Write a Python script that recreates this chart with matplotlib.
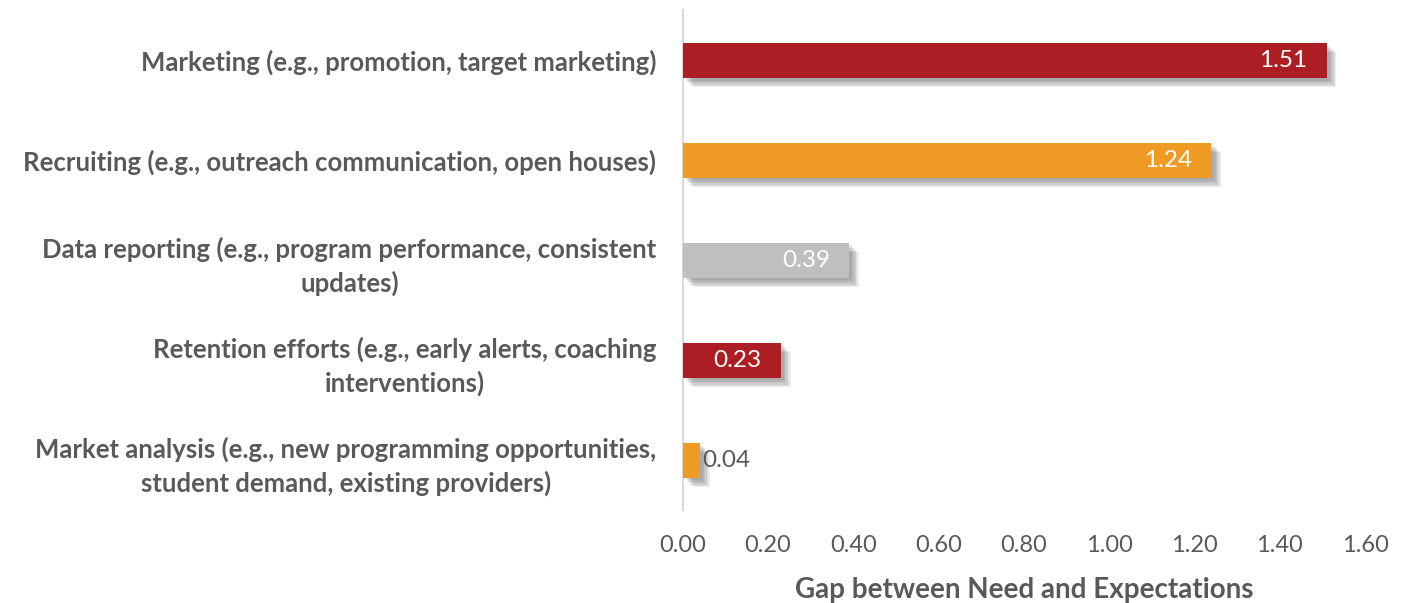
import matplotlib
matplotlib.use('Agg')
import matplotlib.pyplot as plt
import matplotlib.patheffects as pe

categories = [
    'Marketing (e.g., promotion, target marketing)',
    'Recruiting (e.g., outreach communication, open houses)',
    'Data reporting (e.g., program performance, consistent\nupdates)',
    'Retention efforts (e.g., early alerts, coaching\ninterventions)',
    'Market analysis (e.g., new programming opportunities,\nstudent demand, existing providers)',
]
gaps = [1.51, 1.24, 0.39, 0.23, 0.04]
colors = ['#AC1E23', '#EE9A24', '#BFBFBF', '#AC1E23', '#EE9A24']
ticks = [0.0, 0.2, 0.4, 0.6, 0.8, 1.0, 1.2, 1.4, 1.6]

text_color = '#595959'
plt.rcParams['font.family'] = ['Lato', 'DejaVu Sans']

fig = plt.figure(figsize=(14.05, 6.03), dpi=100)
ax = fig.add_axes([0.486, 0.154, 0.4855, 0.829])

ypos = list(range(len(categories)))
# soft drop shadow built from a few faint offset copies
shadow = [pe.SimplePatchShadow(offset=(d, -d), shadow_rgbFace='#404040', alpha=0.09)
          for d in (2, 3, 4, 5, 6, 7)] + [pe.Normal()]
bars = ax.barh(ypos, gaps, height=0.35, color=colors, zorder=3)
for b in bars:
    b.set_path_effects(shadow)

for y, v in zip(ypos, gaps):
    if v > 0.1:
        ax.text(v - 0.045, y, '%.2f' % v, ha='right', va='center', color='white',
                fontsize=17.5, zorder=4)
    else:
        ax.text(v + 0.005, y, '%.2f' % v, ha='left', va='center', color=text_color,
                fontsize=17.5, zorder=4)

ax.set_xlim(0, 1.6)
ax.set_ylim(len(categories) - 0.5, -0.5)
ax.set_xticks(ticks)
ax.set_xticklabels(['%.2f' % t for t in ticks])
ax.set_yticks(ypos)
ax.set_yticklabels(categories, fontweight='bold', multialignment='center', linespacing=1.38)

for s in ['top', 'right', 'bottom']:
    ax.spines[s].set_visible(False)
ax.spines['left'].set_color('#D9D9D9')
ax.spines['left'].set_linewidth(1.5)
ax.tick_params(axis='x', length=0, labelsize=17, labelcolor=text_color, pad=18)
ax.tick_params(axis='y', length=0, labelsize=18.5, labelcolor=text_color, pad=19)

ax.set_xlabel('Gap between Need and Expectations', fontsize=20, fontweight='bold',
              color=text_color, labelpad=15)

fig.savefig('out.png', dpi=100)
